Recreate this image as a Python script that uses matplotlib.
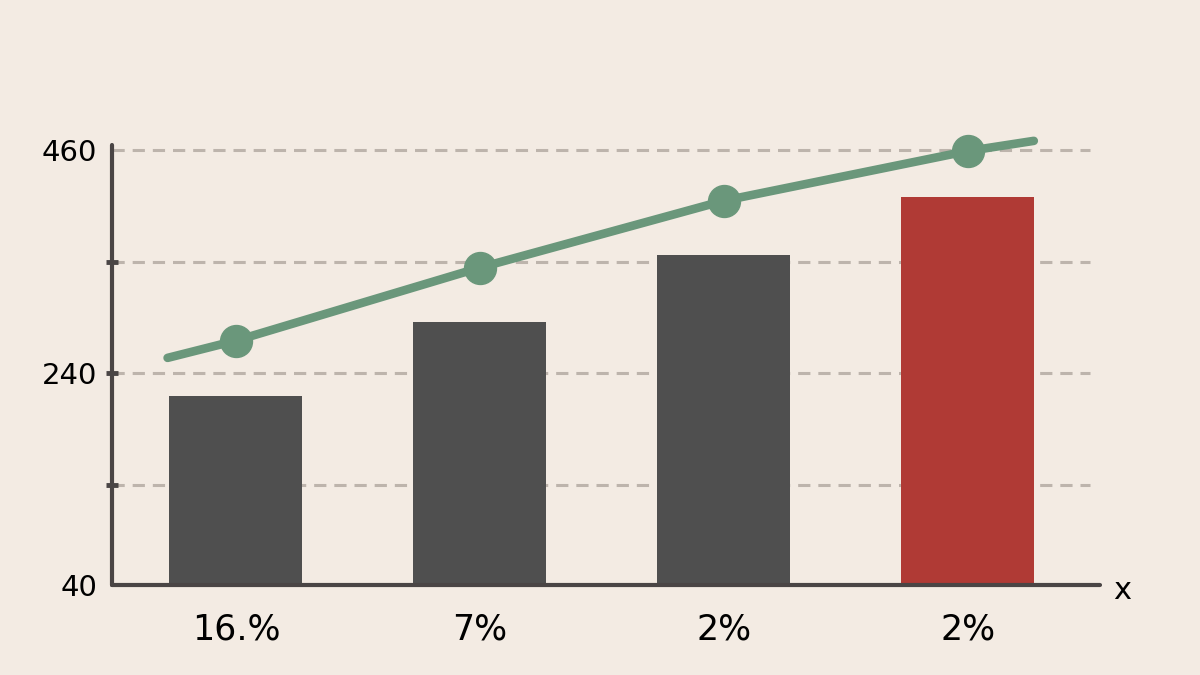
import numpy as np
import matplotlib
matplotlib.use('Agg')
import matplotlib.pyplot as plt

# values
categories = ['16.%', '7%', '2%', '2%']
bar_values = [217, 290, 356, 414]
bar_colors = ['#4f4f4f', '#4f4f4f', '#4f4f4f', '#b03a35']

line_points = [272, 344, 410, 459]
# the curve runs a little past the first and last point
line_x = [-0.28, 0, 1, 2, 3, 3.27]
line_y = [255, 272, 344, 410, 459, 469]

grid_values = [130, 240, 350, 460]
ytick_values = [31, 130, 240, 350, 460]
ytick_labels = ['40', '', '240', '', '460']

BG = '#f3ebe3'
AXIS = '#4a4545'
GREEN = '#6a977b'

plt.rcParams['font.family'] = ['DejaVu Sans']

fig = plt.figure(figsize=(12, 6.75), dpi=100, facecolor=BG)
ax = fig.add_axes([0.0933, 0.1333, 0.8233, 0.652])
ax.set_facecolor(BG)

x = np.arange(len(categories))

for g in grid_values:
    ax.axhline(g, xmax=0.99, color='#bdb4ac', lw=2.2, ls=(0, (4, 2.6)), zorder=1)

ax.bar(x, bar_values, width=0.545, color=bar_colors, zorder=2)

ax.plot(line_x, line_y, color=GREEN, lw=6.2, solid_capstyle='round',
        zorder=3, clip_on=False)
ax.plot(x, line_points, 'o', color=GREEN, markersize=23, zorder=4, clip_on=False)

ax.set_xlim(-0.508, 3.541)
ax.set_ylim(31, 465)

for side in ['top', 'right']:
    ax.spines[side].set_visible(False)
for side in ['left', 'bottom']:
    ax.spines[side].set_color(AXIS)
    ax.spines[side].set_linewidth(3)
    ax.spines[side].set_capstyle('round')

ax.set_yticks(ytick_values, labels=ytick_labels)
ax.tick_params(axis='y', direction='inout', length=9, width=3.5, color=AXIS,
               labelsize=21, pad=6, labelcolor='#000000')
ax.yaxis.get_major_ticks()[0].tick1line.set_visible(False)
ax.yaxis.get_major_ticks()[-1].tick1line.set_visible(False)

ax.set_xticks(x, labels=categories)
ax.tick_params(axis='x', length=0, labelsize=25, pad=20, labelcolor='#000000')

ax.text(1.013, -0.012, 'x', transform=ax.transAxes, fontsize=22, ha='left',
        va='center', color='#000000')

plt.savefig('out.png', dpi=100, facecolor=BG)
